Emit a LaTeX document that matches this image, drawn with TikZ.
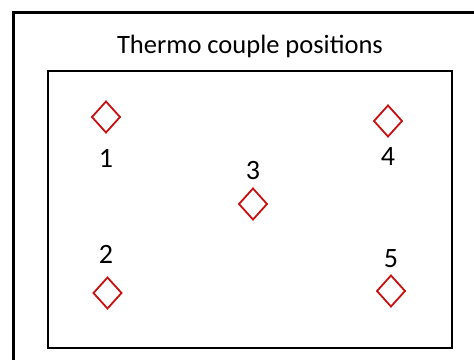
\documentclass[tikz,border=0pt]{standalone}
\usepackage{fontspec}
\setmainfont{Carlito}
\begin{document}
\begin{tikzpicture}[x=1pt,y=-1pt,
  frame/.style={draw=black,line width=3pt},
  inner/.style={draw=black,line width=2pt},
  tc/.style={draw={rgb,255:red,200;green,16;blue,16},line width=1.8pt,line join=miter},
  lbl/.style={font=\fontsize{28}{32}\selectfont,inner sep=0pt},
  ttl/.style={font=\fontsize{26.5}{30}\selectfont,inner sep=0pt}]
\useasboundingbox (0,0) rectangle (474,360);
\fill[white] (0,0) rectangle (474,360);
\coordinate (ftop) at (474,12.5);
\coordinate (fcorner) at (13.5,12.5);
\coordinate (fbot) at (13.5,360);
\draw[frame,line join=miter] (ftop) -- (fcorner) -- (fbot);
\node[ttl] (title) at (250,46) {Thermo couple positions};
\node[inner,minimum width=404pt,minimum height=277pt,inner sep=0pt] (box) at (250,209.5) {};
\foreach \n/\x/\y in {d1/106/117, d2/107.5/293, d3/253/204, d4/388/121, d5/391/291}{
  \coordinate (\n) at (\x,\y);
  \draw[tc] ([xshift=-14pt]\n) -- ([yshift=-15.5pt]\n) -- ([xshift=14pt]\n) -- ([yshift=15.5pt]\n) -- cycle;
}
\node[lbl] (l1) at (106,158) {1};
\node[lbl] (l2) at (106,254) {2};
\node[lbl] (l3) at (253,171) {3};
\node[lbl] (l4) at (388,157) {4};
\node[lbl] (l5) at (391,259) {5};
\end{tikzpicture}
\end{document}
